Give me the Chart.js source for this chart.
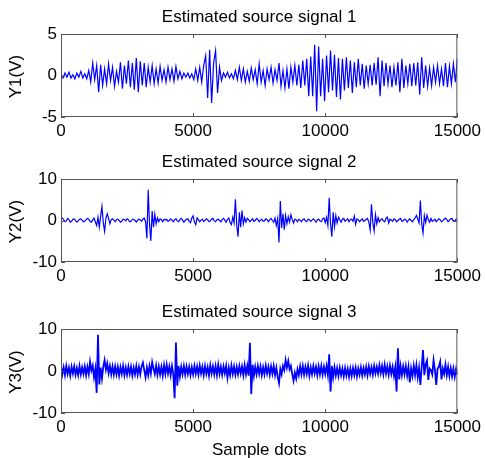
<!DOCTYPE html>
<html>
<head>
<meta charset="utf-8">
<script src="https://cdn.jsdelivr.net/npm/chart.js@4.4.0/dist/chart.umd.min.js"></script>
<style>
    html, body { margin: 0; padding: 0; background: #fff; }
    #wrap { position: relative; width: 485px; height: 458px; overflow: hidden; }
    canvas { position: absolute; left: 0; }
</style>
</head>
<body>
<div id="wrap">
    <canvas id="c1" width="485" height="146" style="top:0px"></canvas>
    <canvas id="c2" width="485" height="146" style="top:146px"></canvas>
    <canvas id="c3" width="485" height="166" style="top:292px"></canvas>
</div>
<script>
// ==================== data ====================

const xTicks = [0, 5000, 10000, 15000];
const y1Ticks = [-5, 0, 5];
const y2Ticks = [-10, 0, 10];
const y3Ticks = [-10, 0, 10];

const titles = ['Estimated source signal 1', 'Estimated source signal 2', 'Estimated source signal 3'];
const yLabels = ['Y1(V)', 'Y2(V)', 'Y3(V)'];
const xLabel = 'Sample dots';

// sample spacing of the values below
const step1 = 75;
const step2 = 50;
const step3 = 50;

// signal 1, one row = 1500 samples
const signal1 = [
    0.2,-0.3,0.3,-0.2,0.4,-0.3,0.1,-0.4,0.3,-0.2,0.5,-0.3,0.2,-0.4,0.6,-0.8,1.5,-0.5,1.2,-2.0,
    1.3,-1.2,0.8,-1.0,1.4,-0.6,1.0,-1.3,0.5,-0.8,1.6,-1.6,1.2,-1.0,1.8,-1.4,1.5,-1.7,2.1,-2.0,
    1.7,-1.2,1.5,-1.4,1.0,-0.8,1.2,-1.0,0.8,-0.9,1.1,-0.6,0.7,-0.8,1.0,-0.5,0.8,-0.7,1.1,-0.4,
    0.5,-0.4,0.3,-0.2,0.3,-0.3,0.2,-0.5,0.8,-0.6,1.0,-0.8,1.2,2.4,-2.7,3.1,-3.3,1.5,3.0,-2.1,
    1.0,-0.6,0.3,-0.2,0.4,-0.3,0.2,-0.4,0.6,-0.5,1.0,-0.6,0.8,-0.8,0.5,-0.7,0.9,-0.5,0.7,-1.0,
    1.4,-0.8,0.6,-1.2,0.8,-0.5,1.0,-0.9,0.7,-0.6,1.5,-1.3,0.6,-1.5,0.8,-1.6,1.0,-0.8,1.2,-1.2,
    1.3,-1.5,1.8,-1.2,2.0,-2.5,2.3,-2.5,3.7,-4.3,3.5,-2.5,2.0,-3.1,2.4,-2.0,3.0,-1.8,2.5,-2.6,
    2.1,-2.9,2.0,-1.8,2.2,-1.5,1.8,-2.1,1.6,-1.4,2.0,-1.2,1.4,-1.6,1.2,-1.0,1.3,-1.2,1.5,-1.1,
    2.2,-2.5,1.8,-1.3,1.5,-1.0,1.2,-1.4,1.0,-1.2,1.6,-2.0,2.0,-1.5,1.2,-1.0,1.4,-1.3,1.5,-1.2,
    1.6,-2.3,2.2,-1.5,1.2,-1.3,0.9,-1.2,1.0,-0.8,1.2,-1.0,0.8,-1.3,1.5,-1.4,1.1,-1.0,1.4,-0.8,
    2.0
];

// signal 2, one row = 1000 samples
const signal2 = [
    0.3,0.6,0.2,-0.3,-0.1,0.5,0.2,-0.4,-0.2,0.3,0.4,0.0,-0.4,-0.1,0.3,0.4,0.1,-0.3,-0.2,0.2,
    0.5,0.3,-0.2,-0.4,0.1,0.6,-0.3,-1.2,0.8,-1.6,1.0,3.4,-0.5,-2.6,0.6,1.6,0.5,-0.8,0.2,0.4,
    0.1,-0.3,0.2,0.3,0.0,-0.4,-0.2,0.3,0.2,-0.1,0.4,0.2,-0.3,-0.2,0.3,0.3,0.0,-0.4,0.1,0.3,
    0.2,-0.2,0.3,0.6,-0.3,-4.3,7.4,-1.0,-4.9,2.3,-1.6,1.5,-0.8,0.6,-0.3,0.4,0.2,-0.3,0.3,0.1,
    0.3,-0.2,0.0,0.4,0.1,-0.3,0.2,0.4,-0.1,-0.3,0.2,0.5,0.1,-0.4,0.0,0.3,0.4,-0.2,-0.5,0.6,
    1.1,-0.4,-1.0,0.6,0.2,-0.3,0.1,0.3,-0.2,0.0,0.4,0.2,-0.3,-0.1,0.3,0.5,-0.1,-0.3,0.2,0.3,
    0.0,-0.3,0.2,0.5,0.1,-0.4,0.3,0.6,-0.5,-1.0,0.8,-0.6,5.1,-1.0,-3.9,2.0,-1.6,2.4,-0.8,0.7,
    -0.4,0.5,0.2,-0.3,0.1,0.4,-0.2,0.0,0.5,0.2,-0.3,0.1,0.3,-0.2,-0.1,0.4,0.2,-0.3,0.2,0.5,
    0.0,-0.4,0.6,-1.2,0.5,-5.3,4.7,-1.8,1.6,-2.2,1.2,-0.8,0.9,-0.4,1.4,0.2,-0.6,0.3,0.2,-0.3,
    0.3,0.1,-0.3,0.2,0.4,-0.1,-0.3,0.3,0.2,-0.2,0.1,0.4,0.0,-0.4,0.2,0.3,-0.1,-0.3,0.4,0.6,
    -0.5,0.8,-1.2,5.5,-0.8,-3.9,2.0,-1.5,1.2,-0.6,0.8,0.2,-0.4,0.3,0.5,-0.2,0.1,0.4,-0.3,0.2,
    0.3,-0.2,1.1,-0.9,0.4,0.2,-0.3,0.1,0.4,-0.2,0.0,0.3,0.5,-0.4,-2.3,3.9,-0.5,-2.5,1.4,-0.8,
    0.7,-0.3,0.2,0.4,-0.1,-0.3,0.5,0.8,-0.6,0.3,0.1,-0.2,0.4,0.2,-0.3,0.0,0.3,0.5,-0.2,-0.1,
    0.3,0.2,-0.4,0.1,0.4,0.0,-0.3,0.2,0.6,1.2,0.4,-0.6,4.8,-0.8,-3.0,1.2,-0.5,1.3,0.2,-0.4,
    0.5,-0.2,0.0,0.3,-0.3,0.1,0.4,0.2,-0.3,-0.1,0.3,0.6,0.2,-0.3,0.1,0.4,0.5,-0.2,-0.1,0.3,
    0.2
];

// signal 3, one row = 1000 samples
const signal3 = [
    1.1,-0.8,0.9,-1.0,1.2,-0.7,0.8,-1.1,1.0,-0.6,1.1,-0.9,0.7,-1.0,1.2,-0.8,0.9,-0.7,1.1,-1.0,
    1.0,-0.7,2.2,0.1,1.3,-1.5,0.5,-5.2,8.6,-3.2,0.8,-1.8,1.0,2.6,0.3,1.8,-0.5,1.2,-0.8,1.1,
    -0.9,1.1,-0.8,1.0,-1.1,0.9,-0.7,1.2,-1.0,0.8,-0.9,1.1,-0.7,1.0,-1.1,0.8,-0.8,1.2,-0.9,1.0,
    -0.8,1.1,2.0,0.2,-1.5,0.8,-1.0,1.2,-0.6,2.1,0.6,-0.7,1.3,-0.9,1.1,-0.8,1.0,-1.1,1.4,-0.7,
    1.5,-0.6,1.1,-1.0,1.2,-0.8,-6.5,6.8,-3.5,1.2,-1.3,1.0,-0.8,1.2,-0.9,1.1,-0.7,1.0,-1.0,0.9,
    -0.8,1.2,-0.7,1.1,-0.9,1.3,-0.6,1.0,-1.0,1.2,-0.7,0.9,-1.1,1.4,-0.6,1.1,-0.8,1.2,-1.0,1.5,
    -0.7,1.0,-0.9,1.1,-0.6,1.2,-1.6,0.8,-1.0,1.3,-0.7,1.1,-0.9,1.0,-0.8,1.2,-0.6,1.1,-1.0,1.4,
    -0.8,1.2,-1.1,6.7,-5.5,1.5,-1.2,1.0,-0.8,1.2,-0.7,1.1,-1.0,0.9,-0.8,1.3,-0.6,1.0,-0.9,1.1,
    -0.7,1.2,-1.0,0.8,-1.4,-2.9,0.5,-0.8,1.2,0.2,2.6,0.8,2.4,0.4,1.2,-0.7,-2.3,-0.4,-1.8,0.4,
    -1.0,1.1,-0.8,1.2,-0.9,1.0,-0.7,1.3,-1.1,0.9,-0.8,1.2,-0.6,1.0,-1.0,1.1,-0.8,1.2,-0.9,1.0,
    -0.7,1.2,-1.0,4.0,-4.9,1.2,-1.5,0.9,-1.1,0.7,-1.2,0.8,-1.0,0.6,-1.3,0.7,-1.1,0.5,-1.4,0.6,
    -1.2,0.7,-1.0,0.8,-1.3,0.6,-0.9,0.9,-1.1,0.7,-0.8,1.0,-1.0,1.1,-0.7,0.9,-0.9,1.2,-0.6,1.0,
    -0.6,1.4,-0.5,1.2,-0.8,1.5,-0.6,1.1,-0.9,1.3,-0.7,1.0,-1.2,0.9,-4.9,5.4,-2.0,1.2,-1.0,1.1,
    -0.8,1.2,-1.1,1.0,-2.7,0.6,-1.2,1.3,-1.0,1.4,-1.5,0.8,-3.3,0.9,5.0,-1.0,1.6,2.5,-2.1,0.6,
    0.2,-0.8,2.6,0.3,-3.3,0.5,1.0,2.2,-2.0,0.6,-0.7,1.5,-1.0,1.0,-1.2,0.7,-1.3,0.6,-1.4,0.5,
    -0.9
];

// ==================== drawing ====================

const FONT = "'Liberation Sans', Arial, sans-serif";
const FONT_SIZE = 17;
Chart.defaults.font.family = FONT;
Chart.defaults.font.size = FONT_SIZE;
Chart.defaults.color = '#000';

function toPoints(values, step) {
    return values.map((v, i) => ({ x: i * step, y: v }));
}

// MATLAB style box, inward ticks, title and axis labels
const matlabAxes = {
    id: 'matlabAxes',
    afterDraw(chart, args, opts) {
        const { ctx, chartArea: a, scales } = chart;
        const tick = 4;
        ctx.save();
        ctx.strokeStyle = '#555';
        ctx.lineWidth = 1;
        ctx.strokeRect(a.left + 0.5, a.top + 0.5, a.right - a.left - 1, a.bottom - a.top - 1);

        ctx.beginPath();
        scales.x.ticks.forEach(t => {
            const px = Math.round(scales.x.getPixelForValue(t.value)) + 0.5;
            ctx.moveTo(px, a.bottom);
            ctx.lineTo(px, a.bottom - tick);
            ctx.moveTo(px, a.top);
            ctx.lineTo(px, a.top + tick);
        });
        scales.y.ticks.forEach(t => {
            const py = Math.round(scales.y.getPixelForValue(t.value)) + 0.5;
            ctx.moveTo(a.left, py);
            ctx.lineTo(a.left + tick, py);
            ctx.moveTo(a.right, py);
            ctx.lineTo(a.right - tick, py);
        });
        ctx.stroke();

        ctx.fillStyle = '#000';
        ctx.font = FONT_SIZE + 'px ' + FONT;
        ctx.textAlign = 'center';
        ctx.textBaseline = 'alphabetic';
        const cx = (a.left + a.right) / 2;
        ctx.fillText(opts.title, cx, a.top - 12.5);

        if (opts.xLabel) {
            ctx.fillText(opts.xLabel, cx, a.bottom + 41.5);
        }

        ctx.translate(21, (a.top + a.bottom) / 2 + 1);
        ctx.rotate(-Math.PI / 2);
        ctx.fillText(opts.yLabel, 0, 0);
        ctx.restore();
    }
};

function makeChart(id, values, step, yTicks, idx, pad, lineWidth) {
    const ctx = document.getElementById(id);
    return new Chart(ctx, {
        type: 'line',
        data: {
            datasets: [{
                data: toPoints(values, step),
                borderColor: '#0000ff',
                borderWidth: lineWidth,
                pointRadius: 0,
                fill: false,
                tension: 0
            }]
        },
        options: {
            responsive: false,
            animation: false,
            events: [],
            layout: { padding: pad },
            scales: {
                x: {
                    type: 'linear',
                    min: xTicks[0],
                    max: xTicks[xTicks.length - 1],
                    afterBuildTicks: s => { s.ticks = xTicks.map(v => ({ value: v })); },
                    afterFit: s => { s.height = 25; },
                    grid: { display: false, drawTicks: false, tickLength: 0 },
                    border: { display: false },
                    ticks: {
                        autoSkip: false,
                        maxRotation: 0,
                        padding: 4,
                        callback: v => String(v)
                    }
                },
                y: {
                    type: 'linear',
                    min: yTicks[0],
                    max: yTicks[yTicks.length - 1],
                    afterBuildTicks: s => { s.ticks = yTicks.map(v => ({ value: v })); },
                    afterFit: s => { s.width = 61; },
                    grid: { display: false, drawTicks: false, tickLength: 0 },
                    border: { display: false },
                    ticks: {
                        padding: 4,
                        callback: v => String(v)
                    }
                }
            },
            plugins: {
                legend: { display: false },
                tooltip: { enabled: false },
                matlabAxes: {
                    title: titles[idx],
                    yLabel: yLabels[idx],
                    xLabel: idx === 2 ? xLabel : null
                }
            }
        },
        plugins: [matlabAxes]
    });
}

makeChart('c1', signal1, step1, y1Ticks, 0, { top: 34, bottom: 4, left: 0, right: 26 }, 1.2);
makeChart('c2', signal2, step2, y2Ticks, 1, { top: 33, bottom: 5, left: 0, right: 26 }, 1.2);
makeChart('c3', signal3, step3, y3Ticks, 2, { top: 37, bottom: 20, left: 0, right: 26 }, 1.8);
</script>
</body>
</html>
